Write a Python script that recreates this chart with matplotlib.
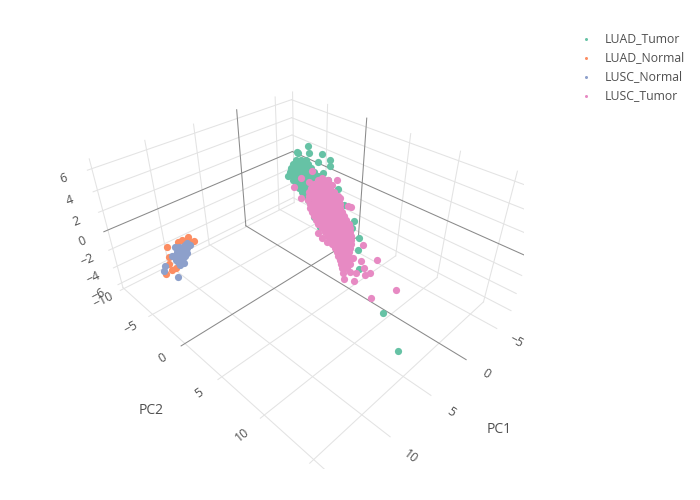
import matplotlib
matplotlib.use("Agg")
import matplotlib.pyplot as plt

plt.rcParams["font.family"] = ["Open Sans", "DejaVu Sans"]

# --- PC scores ---
luad_tumor_pc1 = [-6.7,-6.2,-4.5,-7.2,-4.1,-8.0,-5.4,-4.5, 0.5,-0.2,-0.4,2.5,3.0,4.4,5.3,-2.5,
                  -2.4,-4.5,1.8,1.5,-0.7,0.8,-0.9,-4.4, -3.9,-3.5,-5.3,-2.6,-4.4,-2.4,-4.5,-1.4,
                  -4.1,-3.0,-2.7,-4.4,-1.3,-2.8,-0.9,-3.0, -2.0,-4.8,-0.9,-0.6,-2.3,-1.6,-3.2,-1.3,
                  -3.4,0.2,-2.5,-1.4,-1.1,-2.7,-2.0,-1.3, 0.5,-1.4,-0.5,-3.1,-2.0,0.6,-1.0,-0.3,
                  -1.9,-0.1,-0.1,0.8,-1.7,-0.7,-0.4,-0.1, 0.6,-1.1,0.0]
luad_tumor_pc2 = [-7.1,-8.1,-4.8,-5.6,-3.2,-5.1,-2.7,-6.6, 6.2,4.9,4.6,7.7,8.4,12.1,14.4,1.0,
                  -0.2,-2.8,2.0,2.5,3.3,5.4,2.3,-2.1, -6.1,-5.0,-6.1,-5.2,-6.3,-3.5,-5.0,-4.2,
                  -6.3,-4.4,-3.4,-4.4,-4.2,-5.3,-2.6,-4.0, -2.3,-4.4,-4.1,-3.1,-4.1,-2.7,-3.7,-1.1,
                  -2.5,-2.3,-4.3,-2.5,-1.6,-2.5,-1.1,-3.4, -0.8,-2.2,-0.6,-2.5,-0.8,-1.1,-2.0,-0.7,
                  -1.6,0.8,-1.3,0.2,-1.7,0.0,0.9,-0.8, 0.5,-1.6,1.3]
luad_tumor_pc3 = [1.9,0.9,2.6,1.3,2.3,0.5,1.6,2.1, 0.1,0.9,-0.1,0.6,-0.7,-2.2,-4.0,1.6,
                  2.1,1.1,0.9,-0.1,1.6,-0.7,1.3,0.5, 1.6,2.1,1.1,1.9,0.9,2.6,1.3,2.3,
                  0.5,1.6,2.1,1.1,1.9,0.9,2.6,1.3, 2.3,0.5,1.6,2.1,1.1,1.9,0.9,2.6,
                  1.3,2.3,0.5,1.6,2.1,1.1,1.9,0.9, 2.6,1.3,2.3,0.5,1.6,2.1,1.1,1.9,
                  0.9,2.6,1.3,2.3,0.5,1.6,2.1,1.1, 1.9,-0.1,1.6]

luad_normal_pc1 = [10.2,9.5,11.4,10.9,12.6,12.2,13.4,14.0,13.0,14.5,9.8,11.1]
luad_normal_pc2 = [-4.3,-6.4,-4.2,-5.9,-4.6,-5.5,-3.3,-1.9,-3.1,-2.0,-6.1,-3.5]
luad_normal_pc3 = [-0.6,-1.6,0.1,-1.2,-0.2,-2.0,-0.9,-0.4,-1.4,-0.6,-1.6,0.1]

lusc_normal_pc1 = [10.8,10.4,12.1,11.5,11.5,10.8,12.0,11.8, 11.6,12.8,12.0,12.8,12.5,12.9,13.1,14.2,
                   14.1,12.5,10.8,10.4,11.9,11.5,11.9,11.2, 12.3,12.2,12.0,12.9,12.1]
lusc_normal_pc2 = [-4.4,-5.6,-3.5,-5.4,-3.3,-5.6,-4.3,-3.0, -4.2,-3.7,-4.4,-2.0,-3.4,-1.8,-4.7,-2.8,
                   -0.8,-3.2,-4.0,-5.4,-3.3,-4.8,-3.1,-5.2, -4.0,-2.7,-3.8,-3.0,-3.7]
lusc_normal_pc3 = [-0.6,-1.6,0.1,-1.2,-0.2,-2.0,-0.9,-0.4, -1.4,-0.6,-1.6,0.1,-1.2,-0.2,-2.0,-0.9,
                   -0.4,-1.4,-0.6,-1.6,0.1,-1.2,-0.2,-2.0, -0.9,-0.4,-1.4,-0.6,-1.6]

lusc_tumor_pc1 = [-2.9,-2.4,-0.2,-0.2,1.9,-4.5,-3.7,-2.0, -2.0,-1.7,-3.1,4.1,3.0,3.1,-0.7,1.4,
                  1.3,2.6,3.2,2.4,4.6,3.6,3.0,4.1, 4.6,4.6,1.9,2.8,-3.3,-1.4,-3.5,-0.7,
                  -3.4,-2.2,-1.9,-1.5,-0.8,-2.4,-0.5,-2.5, 0.7,-1.9,-0.8,-0.5,-2.1,-1.4,-0.5,1.3,
                  -0.7,0.3,-2.3,-1.3,-0.9,-0.9,-0.3,-1.9, -0.1,-2.0,-1.1,-3.7,0.1,0.4,-1.2,-0.5,
                  -2.1,-0.3,-2.2,1.4,-1.0,0.0,0.2,-1.3, -0.6,-2.2,2.1,0.3,1.1,-1.3,-0.3,0.0,
                  -1.6,1.7,0.2,1.8,0.0,0.9,-1.6,-0.6, 2.2,0.8,1.4,-0.1,1.6,-0.2,0.6,0.8,
                  1.7,1.9,0.5,1.1,-0.4,1.3,1.9,2.7, 0.4,1.3,1.6,0.1,0.9,1.7,3.3,1.5,
                  2.4,0.0,1.0,3.3,1.9,2.5,1.1,2.7, 1.0,2.7,0.4,1.3,1.5,0.1,2.6,1.2,
                  2.7,1.0,1.9,1.4,2.2,2.5,1.1,3.2, 1.8,3.3,1.8,3.9,1.8,2.6,4.0,2.7,
                  3.3,3.1,4.6,3.0,4.9,2.8]
lusc_tumor_pc2 = [-2.8,-3.9,-0.6,-2.6,0.6,-2.9,-0.2,0.7, 1.7,2.9,2.2,4.7,4.2,4.9,5.7,8.9,
                  11.0,9.5,9.0,9.0,10.2,8.5,7.9,7.7, 8.0,8.7,7.6,7.5,-2.4,0.1,-1.2,-0.4,
                  -2.3,-0.6,0.4,-1.5,-0.2,-1.1,1.3,0.0, 0.3,-1.5,0.1,1.0,0.2,1.5,-0.8,1.5,
                  0.3,1.8,0.0,1.6,2.4,-1.3,0.0,-0.8, 1.4,0.3,1.7,0.1,-0.1,0.8,0.0,1.2,
                  0.4,2.6,1.5,1.2,-0.5,1.0,1.9,1.1, 2.3,1.6,2.1,1.0,2.4,0.8,2.3,3.1,
                  2.4,1.9,1.1,3.3,2.2,3.6,2.0,3.5, 2.7,2.0,3.1,2.4,4.4,3.4,4.7,1.6,
                  3.0,3.9,3.2,4.3,3.6,5.6,3.1,4.4, 2.9,4.3,5.1,4.5,5.4,3.3,5.3,4.3,
                  5.6,4.2,5.5,5.1,4.4,5.5,4.9,6.7, 5.7,4.9,3.5,4.9,5.6,5.0,5.0,4.4,
                  6.3,5.4,6.5,4.3,5.6,6.3,5.7,6.1, 5.5,7.2,6.2,6.8,5.6,6.8,7.1,6.6,
                  7.5,6.5,8.2,7.4,8.1,6.9]
lusc_tumor_pc3 = [1.9,0.9,2.6,1.3,2.3,0.5,1.6,2.1, 1.1,0.9,-0.1,1.6,0.3,0.3,-1.5,-0.4,
                  -2.4,-3.4,-0.1,-1.1,0.6,-0.7,-2.2,-1.5, -0.4,0.1,-0.9,-0.1,0.9,2.6,1.3,2.3,
                  0.5,1.6,2.1,1.1,1.9,0.9,2.6,1.3, 2.3,0.5,1.6,2.1,1.1,1.9,0.9,2.6,
                  1.3,2.3,0.5,1.6,2.1,0.1,0.9,-0.1, 1.6,0.3,1.3,-0.5,0.6,1.1,0.1,0.9,
                  -0.1,1.6,0.3,1.3,-0.5,0.6,1.1,0.1, 0.9,-0.1,1.6,0.3,1.3,-0.5,0.6,1.1,
                  0.1,0.9,-0.1,1.6,0.3,1.3,-0.5,0.6, 1.1,0.1,0.9,-0.1,1.6,0.3,1.3,-0.5,
                  0.6,1.1,0.1,0.9,-0.1,1.6,0.3,1.3, -0.5,0.6,1.1,0.1,0.9,-0.1,1.6,0.3,
                  1.3,-0.5,0.6,1.1,0.1,0.9,-0.1,1.6, 0.3,0.3,-1.5,-0.4,0.1,-0.9,-0.1,-1.1,
                  0.6,-0.7,0.3,-1.5,-0.4,0.1,-0.9,-0.1, -1.1,0.6,-0.7,0.3,-1.5,-0.4,0.1,-0.9,
                  -0.1,-1.1,0.6,-0.7,0.3,-1.5]

series_names = ["LUAD_Tumor", "LUAD_Normal", "LUSC_Normal", "LUSC_Tumor"]
series_colors = ["#66c2a5", "#fc8d62", "#8da0cb", "#e78ac3"]

pc1_ticks = [-5, 0, 5, 10, 15]
pc2_ticks = [-10, -5, 0, 5, 10, 15]
pc3_ticks = [-6, -4, -2, 0, 2, 4, 6]
pc1_labelled = [-5, 0, 5, 10]
pc2_labelled = [-10, -5, 0, 5, 10]

# scene box, fitted against the grid lines of the reference
X0, X1 = -7.2806, 15.3782
Y0, Y1 = -10.1858, 17.5702
Z0, Z1 = -6.5939, 6.8777

GRID, ZERO, TXT = "#e3e3e3", "#8a8a8a", "#505050"


def minus(v):
    return str(v).replace("-", "\u2212")


fig = plt.figure(figsize=(7, 5), dpi=100)
ax = fig.add_axes([82.48/700, 30.94/500, 441.44/700, 441.44/500], projection="3d")
ax.view_init(35.2326, 44.5602, -0.2573)
ax.set_proj_type("persp", focal_length=0.2202)
ax.set_box_aspect((1.6922, 2.0717, 1.0))
ax.set_xlim3d(X0, X1, view_margin=0)
ax.set_ylim3d(Y0, Y1, view_margin=0)
ax.set_zlim3d(Z0, Z1, view_margin=0)
ax.set_axis_off()
ax.computed_zorder = False

# grid on floor and the two back walls
for t in pc1_ticks:
    c = ZERO if t == 0 else GRID
    z = 2 if t == 0 else 1
    ax.plot([t, t], [Y0, Y1], [Z0, Z0], color=c, lw=0.75, zorder=z)
    ax.plot([t, t], [Y0, Y0], [Z0, Z1], color=c, lw=0.75, zorder=z)
for t in pc2_ticks:
    c = ZERO if t == 0 else GRID
    z = 2 if t == 0 else 1
    ax.plot([X0, X1], [t, t], [Z0, Z0], color=c, lw=0.75, zorder=z)
    ax.plot([X0, X0], [t, t], [Z0, Z1], color=c, lw=0.75, zorder=z)
for t in pc3_ticks:
    c = ZERO if t == 0 else GRID
    z = 2 if t == 0 else 1
    ax.plot([X0, X0], [Y0, Y1], [t, t], color=c, lw=0.75, zorder=z)
    ax.plot([X0, X1], [Y0, Y0], [t, t], color=c, lw=0.75, zorder=z)

pcs = [(luad_tumor_pc1, luad_tumor_pc2, luad_tumor_pc3),
       (luad_normal_pc1, luad_normal_pc2, luad_normal_pc3),
       (lusc_normal_pc1, lusc_normal_pc2, lusc_normal_pc3),
       (lusc_tumor_pc1, lusc_tumor_pc2, lusc_tumor_pc3)]
handles = []
for i, (name, col, (a, b, c)) in enumerate(zip(series_names, series_colors, pcs)):
    h = ax.scatter(a, b, c, s=27, color=col, linewidths=0, depthshade=False,
                   zorder=5+i, label=name)
    handles.append(h)

# tick labels sit just off the box; zdir turns them along the receding axis
for t in pc1_labelled:
    ax.text(t+0.2, Y1+1.9, Z0, minus(t), zdir=(0, 1, 0), fontsize=8.8, color=TXT,
            ha="center", va="center", rotation_mode="anchor")
for t in pc2_labelled:
    ax.text(X1+1.8, t+0.1, Z0, minus(t), zdir=(-1, 0, 0), fontsize=8.8, color=TXT,
            ha="center", va="center", rotation_mode="anchor")
for t in pc3_ticks:
    ax.text(X1+2.0, Y0, t, minus(t), zdir=(-1, 0, 0), fontsize=8.8, color=TXT,
            ha="center", va="center", rotation_mode="anchor")
ax.text(4.11, 22.72, Z0, "PC1", fontsize=10, color=TXT, ha="center", va="center")
ax.text(20.55, 3.82, Z0, "PC2", fontsize=10, color=TXT, ha="center", va="center")

fig.legend(handles, series_names, loc="upper left", bbox_to_anchor=(570/700, 1-26/500),
           frameon=False, fontsize=8.8, labelcolor=TXT, markerscale=0.42,
           labelspacing=0.48, handletextpad=0.75, handlelength=1.6, borderpad=0.0)

fig.savefig("out.png", dpi=100)
